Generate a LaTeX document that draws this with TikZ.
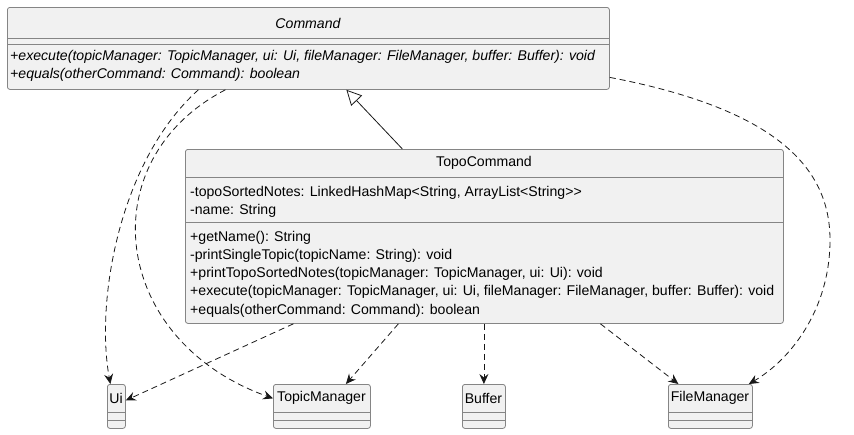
\documentclass[tikz,border=0pt]{standalone}
\usepackage{fontspec}
\setmainfont{Liberation Sans}
\usepackage{tikz}
\usetikzlibrary{arrows.meta}
\definecolor{boxfill}{HTML}{F1F1F1}
\definecolor{boxline}{HTML}{858585}
\definecolor{arrline}{HTML}{181818}

\begin{document}
\begin{tikzpicture}[x=1pt,y=-1pt,
    every node/.style={font=\fontsize{14.1}{18.3}\selectfont},
    class/.style={rectangle,draw=boxline,fill=boxfill,rounded corners=2.5pt,line width=0.8pt,anchor=north west,inner sep=0pt},
    members/.style={anchor=west,align=left,inner sep=0pt},
    sep/.style={draw=boxline,line width=0.8pt},
    dep/.style={draw=arrline,line width=0.8pt,dash pattern=on 6pt off 4pt,-{Stealth[length=10pt,width=9pt,inset=3.5pt]}},
    inherit/.style={draw=arrline,line width=0.8pt,-{Triangle[open,length=15pt,width=15pt]}}]
    \useasboundingbox (0,0) rectangle (854,434);
      %abstract command
      \node[class,minimum width=602pt,minimum height=82pt] (command) at (7,7) {};
      \node (command-name) at (308,23) {\itshape Command};
      \draw[sep] (7,38) -- (609,38);
      \draw[sep] (7,44) -- (609,44);
      \node[members] (command-ops) at (10,66) {\itshape +execute(topicManager: TopicManager, ui: Ui, fileManager: FileManager, buffer: Buffer): void\\
        \itshape +equals(otherCommand: Command): boolean};
      %topo command
      \node[class,minimum width=598pt,minimum height=174pt] (topo) at (185,149) {};
      \node (topo-name) at (484,163) {TopoCommand};
      \draw[sep] (185,177) -- (783,177);
      \draw[sep] (185,222) -- (783,222);
      \node[members] (topo-attrs) at (190,202) {-topoSortedNotes: LinkedHashMap<String, ArrayList<String>{}>\\
        -name: String};
      \node[members] (topo-ops) at (190,274) {+getName(): String\\
        -printSingleTopic(topicName: String): void\\
        +printTopoSortedNotes(topicManager: TopicManager, ui: Ui): void\\
        +execute(topicManager: TopicManager, ui: Ui, fileManager: FileManager, buffer: Buffer): void\\
        +equals(otherCommand: Command): boolean};
      %small classes
      \node[class,minimum width=18pt,minimum height=44pt] (ui) at (107,384) {};
      \node (ui-name) at (116,398) {Ui};
      \node[class,minimum width=97pt,minimum height=44pt] (topicmgr) at (273,384) {};
      \node (topicmgr-name) at (321.5,398) {TopicManager};
      \node[class,minimum width=43pt,minimum height=44pt] (buffer) at (462,384) {};
      \node (buffer-name) at (483.5,398) {Buffer};
      \node[class,minimum width=84pt,minimum height=44pt] (filemgr) at (668,384) {};
      \node (filemgr-name) at (710,398) {FileManager};
      \draw[sep] (107,412) -- (125,412) (107,420) -- (125,420);
      \draw[sep] (273,412) -- (370,412) (273,420) -- (370,420);
      \draw[sep] (462,412) -- (505,412) (462,420) -- (505,420);
      \draw[sep] (668,412) -- (752,412) (668,420) -- (752,420);
      %arrows
      \draw[inherit] ([xshift=-82pt]topo.north) -- ([xshift=38pt]command.south);
      \draw[dep] ([xshift=-110pt]command.south) .. controls (120,160) and (95,300) .. ([xshift=-6pt]ui.north);
      \draw[dep] ([xshift=-83pt]command.south) .. controls (90,160) and (110,340) .. ([yshift=8pt]topicmgr.west);
      \draw[dep] ([yshift=-29pt]command.east) .. controls (780,110) and (830,170) .. (830,240)
        .. controls (830,310) and (790,360) .. ([xshift=-4pt]filemgr.north east);
      \draw[dep] ([xshift=-191pt]topo.south) -- ([yshift=6pt]ui.east);
      \draw[dep] ([xshift=-86pt]topo.south) -- ([xshift=24pt]topicmgr.north);
      \draw[dep] (topo.south -| buffer.north) -- (buffer.north);
      \draw[dep] ([xshift=116pt]topo.south) -- ([xshift=-32pt]filemgr.north);
\end{tikzpicture}
\end{document}
